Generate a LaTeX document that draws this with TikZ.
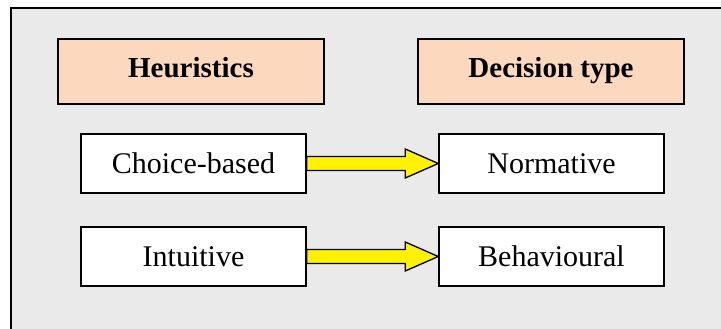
\documentclass[tikz,border=0pt]{standalone}
\usepackage{fontspec}
\setmainfont{Liberation Serif}
\usepackage{tikz}

\definecolor{panelgrey}{HTML}{EAEAEA}
\definecolor{headtan}{HTML}{FBD8BE}

% yellow block arrow from the east side of #1 to the west side of #2
\newcommand{\yellowarrow}[2]{%
	\draw[arrowbody] ([yshift=7pt]#1.east) -- ([xshift=-33pt,yshift=7pt]#2.west)
		-- ([xshift=-33pt,yshift=14.5pt]#2.west) -- (#2.west)
		-- ([xshift=-33pt,yshift=-14.5pt]#2.west) -- ([xshift=-33pt,yshift=-7pt]#2.west)
		-- ([yshift=-7pt]#1.east) -- cycle;}

\begin{document}
\begin{tikzpicture}[x=1pt,y=1pt,
	headbox/.style={draw, line width=1.5pt, fill=headtan, font=\fontsize{29}{34}\selectfont\bfseries,
		minimum width=266pt, minimum height=65pt, inner sep=0pt, text height=19pt, text depth=7pt},
	itembox/.style={draw, line width=1.5pt, fill=white, font=\fontsize{30}{35}\selectfont,
		minimum width=225pt, minimum height=59pt, inner sep=0pt, text height=20pt, text depth=0pt},
	arrowbody/.style={draw, line width=1.3pt, fill=yellow, line join=miter}]
	\useasboundingbox (0,0) rectangle (721,329);
	\clip (0,0) rectangle (721,329);

	% grey panel, only its top and left edges are in view
	\fill[panelgrey] (11,-10) rectangle (731,321);
	\draw[line width=2pt] (11,-10) -- (11,321) -- (731,321);

	% column headings
	\node (heur) at (191,257.5) [headbox] {Heuristics};
	\node (dtype) at (551,257.5) [headbox] {Decision type};

	% heuristics and the decision types they lead to
	\node (choice) at (193.5,165.5) [itembox] {Choice-based};
	\node (intuit) at (193.5,72.5) [itembox] {Intuitive};
	\node (norm) at (551.5,165.5) [itembox] {Normative};
	\node (behav) at (551.5,72.5) [itembox] {Behavioural};

	\yellowarrow{choice}{norm}
	\yellowarrow{intuit}{behav}
\end{tikzpicture}
\end{document}
